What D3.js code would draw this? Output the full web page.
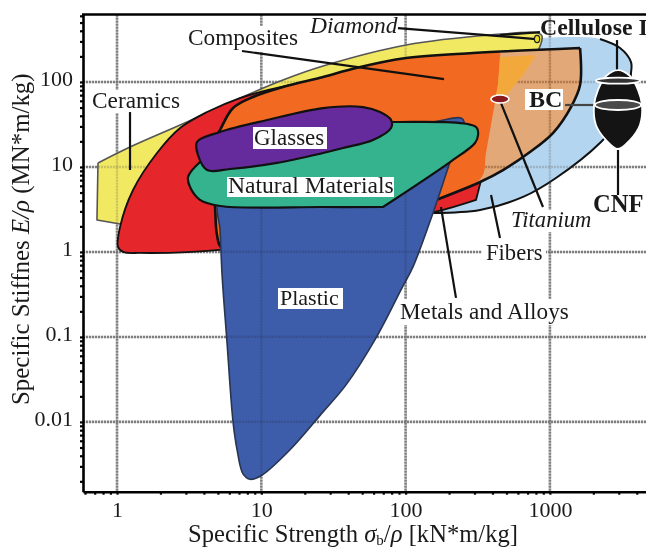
<!DOCTYPE html>
<html><head><meta charset="utf-8">
<script src="https://cdn.jsdelivr.net/npm/d3@7/dist/d3.min.js"></script>
<style>
html,body{margin:0;padding:0;background:#fff;overflow:hidden}
svg{display:block;filter:blur(0.4px)}
text{font-family:"Liberation Serif",serif;fill:#1a1a1a}
</style></head><body>
<svg id="c" width="646" height="549"></svg>
<script>
// All region vertices: [log10 specific strength, log10 specific stiffness]
const fibers=[[2.952,2.517],[3.174,2.528],[3.347,2.505],[3.486,2.399],[3.562,2.234],[3.562,2.105],[3.541,1.846],[3.451,1.494],[3.354,1.294],[3.042,.870],[2.814,.647],[2.516,.494],[2.190,.459],[1.961,.612],[1.961,1.788],[2.516,2.434]];
const ceramics=[[-.132,1.047],[-.132,1.047],[.090,1.235],[.437,1.494],[.852,1.811],[1.150,2.023],[1.428,2.187],[2.003,2.434],[2.585,2.552],[2.918,2.575],[2.945,2.540],[2.904,2.317],[2.689,1.823],[1.961,1.200],[.922,.612],[.021,.329],[.021,.329],[-.139,.376],[-.139,.376]];
const metals=[[.007,.059],[.021,.294],[.111,.729],[.277,1.164],[.437,1.458],[.624,1.646],[.852,1.811],[1.199,1.964],[1.961,2.140],[2.516,1.788],[2.523,.847],[2.523,.847],[2.488,.612],[2.488,.612],[2.204,.470],[1.476,.235],[.714,.024],[.159,-.012],[.042,0]];
const composites=[[3.209,2.399],[3.209,2.399],[3.209,1.964],[3.146,1.705],[3.021,1.399],[2.862,1.176],[2.675,.964],[2.516,.823],[2.211,.612],[1.823,.376],[1.268,.141],[.728,.047],[.693,.200],[.679,.529],[.644,1.200],[.714,1.435],[.804,1.693],[.942,1.823],[1.150,1.940],[1.428,2.058],[1.656,2.164],[2.003,2.281],[2.467,2.340]];
const metalMatrix=[[.728,.047],[.693,.200],[.679,.529],[.644,1.200],[.714,1.435],[.804,1.693],[.942,1.823],[1.150,1.940],[1.428,2.058],[1.656,2.164],[2.003,2.281],[2.467,2.340],[2.654,2.340],[2.654,2.293],[2.640,1.964],[2.606,1.635],[2.557,1.164],[2.523,.870],[2.211,.612],[1.823,.376],[1.268,.141]];
const overlap=[[2.654,2.293],[2.904,2.317],[2.814,2.082],[2.689,1.823],[2.623,1.823],[2.640,1.964]];
const plastic=[[2.384,1.576],[2.405,1.529],[2.308,1.058],[2.190,.459],[2.051,-.176],[1.975,-.423],[1.795,-1.011],[1.587,-1.564],[1.428,-1.882],[1.199,-2.328],[.998,-2.634],[.922,-2.675],[.873,-2.611],[.832,-2.328],[.804,-1.999],[.762,-1.058],[.728,-.270],[.714,.259],[.700,.612],[.991,1.200],[2.190,1.529]];
const natural=[[1.913,1.529],[2.488,1.470],[2.502,1.376],[2.481,1.282],[2.308,1.058],[1.843,.529],[1.843,.529],[1.428,.529],[.714,.541],[.575,.612],[.506,.764],[.492,.882],[.575,1.058],[.852,1.376],[1.407,1.494]];
const glasses=[[1.705,1.705],[1.823,1.646],[1.899,1.552],[1.899,1.458],[1.774,1.317],[1.566,1.223],[1.428,1.164],[1.109,1.047],[.783,.976],[.624,.964],[.561,1.141],[.554,1.294],[.714,1.411],[1.040,1.552],[1.428,1.693]];
const cnfIcon=[[3.472,2.140],[3.555,2.070],[3.611,1.905],[3.638,1.729],[3.624,1.494],[3.555,1.317],[3.472,1.211],[3.389,1.317],[3.319,1.494],[3.306,1.729],[3.333,1.905],[3.389,2.070]];
const leaders=[
 [[1.947,2.634],[2.904,2.505]],[[2.654,2.552],[2.931,2.587]],[[.866,2.364],[2.266,2.034]],
 [[.090,1.646],[.090,.964]],[[3.105,1.729],[3.326,1.729]],[[2.661,1.752],[2.952,.529]],
 [[2.592,.670],[2.654,.165]],[[2.245,.529],[2.349,-.541]],[[3.472,1.200],[3.472,.670]],[[3.465,2.493],[3.465,2.117]]];
const titanium=[2.654,1.799], diamond=[2.911,2.505], cnfBands=[[3.472,2.015],[3.472,1.729]];
const decadesX=[1,10,100,1000], decadesY=[0.01,0.1,1,10,100];
const xDomain=[0.581,4634], yDomain=[0.00151,622];

const svg=d3.select("#c"), W=646, L=83, T=14.5, B=491.7;
const x=d3.scaleLog().domain(xDomain).range([L,W]);
const y=d3.scaleLog().domain(yDomain).range([B,T]);
const pt=d=>[x(10**d[0]),y(10**d[1])];
const closed=d3.line().curve(d3.curveCatmullRomClosed.alpha(.5));
const open=d3.line().curve(d3.curveCatmullRom.alpha(.5));
const poly=pts=>"M"+pts.map(p=>p.join(",")).join("L")+"Z";
const shape=(d,fill,stroke,sw)=>svg.append("path").attr("d",closed(d.map(pt))).attr("fill",fill).attr("stroke",stroke||"none").attr("stroke-width",sw||0).attr("stroke-linejoin","round");

function grid(g,color,op,w){
 g.selectAll("line.v").data(decadesX).join("line").attr("class","v").attr("x1",d=>x(d)).attr("x2",d=>x(d)).attr("y1",T).attr("y2",B);
 g.selectAll("line.h").data(decadesY).join("line").attr("class","h").attr("y1",d=>y(d)).attr("y2",d=>y(d)).attr("x1",L).attr("x2",W);
 g.selectAll("line").attr("stroke",color).attr("stroke-width",w).attr("stroke-dasharray","2.2 0.8").attr("opacity",op);
}
grid(svg.append("g"),"#8c8c8c",1,2.6);

shape(fibers,"#b4d5f0");
svg.append("path").attr("d",open(fibers.slice(2,13).map(pt))).attr("fill","none").attr("stroke","#111").attr("stroke-width",2);
shape(ceramics,"#f2e962","#555",1.6);
grid(svg.append("g"),"#555",.25,2.4);
shape(metals,"#e5262a","#111",1.8);
shape(composites,"#e3a878");
svg.append("clipPath").attr("id","cc").append("path").attr("d",closed(composites.map(pt)));
grid(svg.append("g").attr("clip-path","url(#cc)"),"#7a4a20",.45,2.4);
shape(metalMatrix,"#f26a22");
svg.append("path").attr("d",poly(overlap.map(pt))).attr("fill","#f3a83c");
shape(composites,"none","#111",2.6);
shape(plastic,"#3d5ca9","#2a3550",1.6);
svg.append("clipPath").attr("id","pc").append("path").attr("d",closed(plastic.map(pt)));
grid(svg.append("g").attr("clip-path","url(#pc)"),"#223",.18,2.2);
shape(natural,"#35b38e","#111",2.2);
shape(glasses,"#652a9b","#111",2.2);

// axes
const tickVals=(dom)=>{const o=[];for(let e=-4;e<5;e++)for(let m=1;m<10;m++){const v=m*10**e;if(v>=dom[0]&&v<=dom[1])o.push(v);}return o;};
const isDec=v=>Math.abs(Math.log10(v)-Math.round(Math.log10(v)))<1e-9;
const axY=svg.append("g").attr("transform",`translate(${L},0)`).call(d3.axisLeft(y).tickValues(tickVals(yDomain)).tickSize(3).tickPadding(7).tickSizeOuter(0).tickFormat(v=>isDec(v)?String(+v.toPrecision(1)):""));
const axX=svg.append("g").attr("transform",`translate(0,${B})`).call(d3.axisBottom(x).tickValues(tickVals(xDomain)).tickSize(3).tickPadding(7).tickSizeOuter(0).tickFormat(v=>isDec(v)?String(Math.round(v)):""));
[axX,axY].forEach(a=>{a.selectAll("path.domain").attr("stroke","#000").attr("stroke-width",2.6);a.selectAll("line").attr("stroke","#000").attr("stroke-width",2.2);a.selectAll("text").style("font-family","Liberation Serif").style("font-size","22px").attr("fill","#1a1a1a");});
axY.selectAll("text").attr("dy",".16em");
svg.append("line").attr("x1",L-1).attr("x2",W).attr("y1",T).attr("y2",T).attr("stroke","#000").attr("stroke-width",2.6);

// label backgrounds and text
function bg(a,b,c,d){svg.append("rect").attr("x",a).attr("y",b).attr("width",c-a).attr("height",d-b).attr("fill","#fff");}
function label(t,xp,yp,size,opt={}){const e=svg.append("text").attr("x",xp).attr("y",yp).attr("font-size",size).text(t);
 if(opt.italic)e.attr("font-style","italic");if(opt.bold)e.attr("font-weight","bold");if(opt.anchor)e.attr("text-anchor",opt.anchor);return e;}
bg(186,26,301,52);bg(90,90,182,113);bg(253,127,327,149);bg(227,177,394,197);bg(278,288,343,309);
bg(525,89,563,110);bg(482,243,546,266);bg(398,299,571,325);bg(510,210,592,232);bg(592,195,645,216);

// leader lines
leaders.forEach((l,i)=>svg.append("line").attr("x1",pt(l[0])[0]).attr("y1",pt(l[0])[1]).attr("x2",pt(l[1])[0]).attr("y2",pt(l[1])[1]).attr("stroke",i===4?"#444":"#111").attr("stroke-width",2.2));

// CNF icon
svg.append("path").attr("d",closed(cnfIcon.map(pt))).attr("fill","#141414").attr("stroke","#fff").attr("stroke-width",1.8);
svg.append("ellipse").attr("cx",pt(cnfBands[0])[0]).attr("cy",pt(cnfBands[0])[1]).attr("rx",22).attr("ry",3).attr("fill","#333").attr("stroke","#fff").attr("stroke-width",1.8);
svg.append("ellipse").attr("cx",pt(cnfBands[1])[0]).attr("cy",pt(cnfBands[1])[1]).attr("rx",23).attr("ry",5).attr("fill","#4a4a4a").attr("stroke","#fff").attr("stroke-width",1.8);
svg.append("ellipse").attr("cx",pt(titanium)[0]).attr("cy",pt(titanium)[1]).attr("rx",9).attr("ry",4).attr("fill","#8a1a1c").attr("stroke","#fff").attr("stroke-width",1.6);
svg.append("ellipse").attr("cx",pt(diamond)[0]).attr("cy",pt(diamond)[1]).attr("rx",2.6).attr("ry",3.6).attr("fill","#e8e020").attr("stroke","#222").attr("stroke-width",1.2);

label("Composites",188,45,23.3);
label("Diamond",310,33,23.5,{italic:true});
label("Cellulose I",540,35,23.8,{bold:true});
label("Ceramics",92,108,23.3);
label("Glasses",254,145,23);
label("Natural Materials",228,193,23.6);
label("Plastic",280,305,22);
label("BC",529,107,24,{bold:true});
label("CNF",593,212,24.6,{bold:true});
label("Titanium",511,227,22.6,{italic:true});
label("Fibers",486,260,22.6);
label("Metals and Alloys",400,319,23.2);

const xt=svg.append("text").attr("x",188).attr("y",542).attr("font-size",24.6);
xt.append("tspan").text("Specific Strength ");
xt.append("tspan").attr("font-style","italic").text("σ");
xt.append("tspan").attr("font-size",15).attr("dy",3).text("b");
xt.append("tspan").attr("dy",-3).text("/");
xt.append("tspan").attr("font-style","italic").text("ρ");
xt.append("tspan").text(" [kN*m/kg]");
const yt=svg.append("text").attr("transform","translate(28.5,405) rotate(-90)").attr("font-size",24.9);
yt.append("tspan").text("Specific Stiffnes ");
yt.append("tspan").attr("font-style","italic").text("E/ρ");
yt.append("tspan").text(" (MN*m/kg)");
</script>
</body></html>
